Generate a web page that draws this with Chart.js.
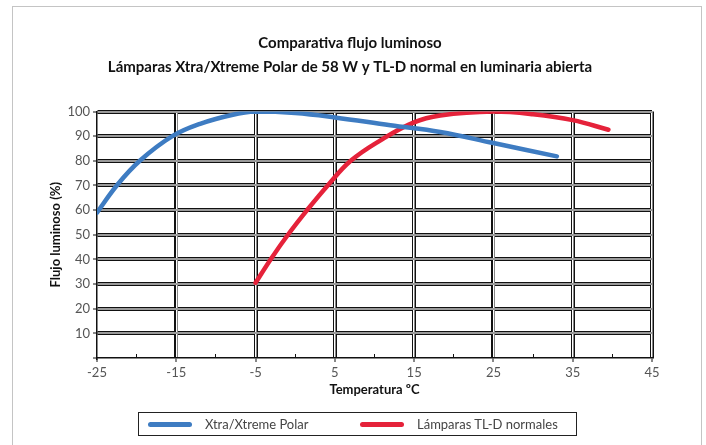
<!DOCTYPE html>
<html>
<head>
<meta charset="utf-8">
<script src="https://cdn.jsdelivr.net/npm/chart.js@4/dist/chart.umd.min.js"></script>
<style>
    body { margin: 0; background: #fff; }
    #marco { position: absolute; left: 12px; top: 6px; width: 688px; height: 470px; border: 1px solid #c4c4c4; }
    #contenedor { position: absolute; left: 0; top: 0; width: 706px; height: 445px; }
    #leyenda { position: absolute; left: 138px; top: 412px; width: 437px; height: 22px; border: 1.5px solid #222;
               font-family: 'Lato', sans-serif; font-size: 13px; color: #444; }
    .item { position: absolute; top: 0; height: 22px; line-height: 22px; white-space: nowrap; }
    .muestra { position: absolute; top: 9px; width: 44px; height: 5px; border-radius: 3px; }
    .texto { position: absolute; left: 57px; top: 0; }
</style>
</head>
<body>
<div id="marco"></div>
<div id="contenedor"><canvas id="chartFlujo" width="706" height="445"></canvas></div>
<div id="leyenda"></div>
<script>
'use strict';

/* Datos */
const TITULO = ['Comparativa flujo luminoso', 'Lámparas Xtra/Xtreme Polar de 58 W y TL-D normal en luminaria abierta'];
const NOMBRES_SERIES = ['Xtra/Xtreme Polar', 'Lámparas TL-D normales'];
const COLORES = ['#3e7cc2', '#e5223a'];

const tempPolar = [-25, -22.5, -19.6, -15.5, -12, -8, -5, 0, 5, 12, 18.3, 25, 33];
const flujoPolar = [59, 70, 80, 90, 95, 98.6, 100, 99.4, 97.6, 94.4, 91.7, 87.2, 81.8];

const tempTLD = [-5, -3, -0.8, 1.5, 4.1, 7, 10.7, 14.9, 18.3, 25, 30, 35, 39.5];
const flujoTLD = [30.5, 40.5, 50.5, 60, 70, 80, 88.2, 95.5, 98.4, 100, 98.9, 96.5, 92.6];

const X_MIN = -25, X_MAX = 45, X_PASO = 10;
const Y_MIN = 0, Y_MAX = 100, Y_PASO = 10;

const FUENTE = "'Lato', sans-serif";

function puntos(xs, ys) {
    return xs.map((x, i) => ({ x: x, y: ys[i] }));
}

const series = [puntos(tempPolar, flujoPolar), puntos(tempTLD, flujoTLD)];

const chart = new Chart(document.getElementById('chartFlujo'), {
    type: 'line',
    data: {
        datasets: series.map((data, i) => ({
            label: NOMBRES_SERIES[i],
            data: data,
            borderColor: COLORES[i],
            backgroundColor: COLORES[i],
            borderWidth: 4.5,
            borderCapStyle: 'round',
            pointRadius: 0,
            tension: 0.4,
            xAxisID: 'x',
            yAxisID: 'y'
        }))
    },
    options: {
        responsive: false,
        animation: false,
        layout: { padding: { left: 48, right: 54, top: 0, bottom: 47 } },
        plugins: {
            legend: { display: false },
            tooltip: { enabled: false },
            title: {
                display: true,
                text: TITULO,
                color: '#111',
                font: { family: FUENTE, size: 15, weight: 'bold', lineHeight: 1.55 },
                padding: { top: 32, bottom: 33 }
            }
        },
        scales: {
            // líneas dobles : trazo negro ancho + trazo claro encima
            x: {
                type: 'linear', position: 'bottom', min: X_MIN, max: X_MAX,
                weight: 1,
                ticks: { stepSize: X_PASO, padding: 3, color: '#555', font: { family: FUENTE, size: 13 } },
                grid: {
                    z: -2,
                    lineWidth: 4,
                    color: ctx => ctx.tick && ctx.tick.value === X_MIN ? 'rgba(0,0,0,0)' : '#111',
                    tickColor: '#111', tickWidth: 1, tickLength: 4
                },
                border: { color: '#111', width: 1.5 },
                title: { display: true, text: 'Temperatura ºC', color: '#111',
                         font: { family: FUENTE, size: 13, weight: 'bold' }, padding: { top: 2, bottom: 0 } },
                afterFit: scale => { scale.height = 40; }
            },
            y: {
                type: 'linear', position: 'left', min: Y_MIN, max: Y_MAX,
                weight: 1,
                ticks: { stepSize: Y_PASO, padding: 3, color: '#555', font: { family: FUENTE, size: 13 },
                         callback: v => v === Y_MIN ? '' : v },
                grid: {
                    z: -2,
                    lineWidth: 4,
                    color: ctx => ctx.tick && ctx.tick.value === Y_MIN ? 'rgba(0,0,0,0)' : '#111',
                    tickColor: '#111', tickWidth: 1, tickLength: 4
                },
                border: { color: '#111', width: 1.5 },
                title: { display: true, text: 'Flujo luminoso (%)', color: '#111',
                         font: { family: FUENTE, size: 13, weight: 'bold' }, padding: { top: 0, bottom: 0 } },
                afterFit: scale => { scale.width = 49; }
            },
            x2: {
                type: 'linear', position: 'bottom', min: X_MIN, max: X_MAX,
                weight: 0,
                ticks: { display: false, stepSize: X_PASO },
                border: { display: false },
                grid: {
                    z: -1, lineWidth: 1.5, drawTicks: false,
                    color: ctx => ctx.tick && ctx.tick.value === X_MIN ? 'rgba(0,0,0,0)' : '#fff'
                },
                afterFit: scale => { scale.height = 0; }
            },
            xMenor: {
                type: 'linear', position: 'bottom', min: X_MIN, max: X_MAX,
                weight: -1,
                ticks: { display: false, stepSize: X_PASO / 2 },
                border: { display: false },
                grid: {
                    drawOnChartArea: false, drawTicks: true, tickLength: -4, tickWidth: 1,
                    tickColor: ctx => ctx.tick && ctx.tick.value % 10 === 0 ? '#111' : 'rgba(0,0,0,0)'
                },
                afterFit: scale => { scale.height = 0; }
            },
            y2: {
                type: 'linear', position: 'left', min: Y_MIN, max: Y_MAX,
                weight: 0,
                ticks: { display: false, stepSize: Y_PASO },
                border: { display: false },
                grid: {
                    z: -1, lineWidth: 2, drawTicks: false,
                    color: ctx => ctx.tick && ctx.tick.value === Y_MIN ? 'rgba(0,0,0,0)' : '#9a9a9a'
                },
                afterFit: scale => { scale.width = 0; }
            }
        }
    }
});

/* Leyenda enmarcada, construida a partir de los datasets */
const leyenda = document.getElementById('leyenda');
chart.data.datasets.forEach((ds, i) => {
    const item = document.createElement('div');
    item.className = 'item';
    item.style.left = (9 + i * 212) + 'px';
    const muestra = document.createElement('span');
    muestra.className = 'muestra';
    muestra.style.background = ds.borderColor;
    const texto = document.createElement('span');
    texto.className = 'texto';
    texto.textContent = ds.label;
    item.appendChild(muestra);
    item.appendChild(texto);
    leyenda.appendChild(item);
});
</script>
</body>
</html>
